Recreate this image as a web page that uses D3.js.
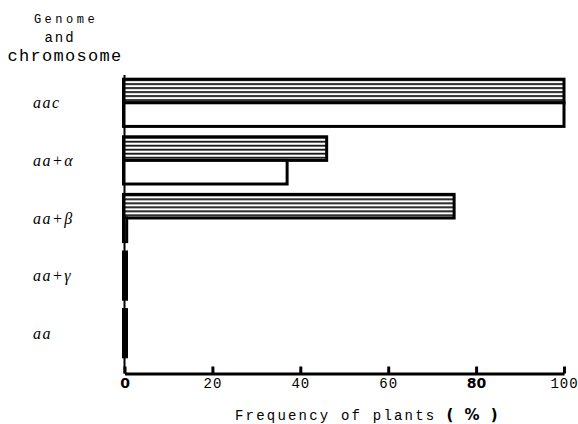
<!DOCTYPE html>
<html lang="en">

<head>
    <meta charset="UTF-8">
    <title>Genome and chromosome</title>
    <script src="https://d3js.org/d3.v7.js"></script>
    <style>
        body { margin: 0; background: #fff; }
        .mono { font-family: "Liberation Mono", "DejaVu Sans Mono", monospace; }
    </style>
</head>

<body>
    <div class="canvas"></div>

    <script>
        // data
        let categories = ["aac", "aa+α", "aa+β", "aa+γ", "aa"];
        let shadedValues = [100, 46, 75, 0, 0];   // hatched bars
        let openValues = [100, 37, 0.5, 0, 0];    // white bars
        let xTicks = [0, 20, 40, 60, 80, 100];
        let boldTicks = [0, 80];

        let data = categories.map((c, i) => ({ cat: c, shaded: shadedValues[i], open: openValues[i] }));

        let width = 578, height = 424;
        let axisY = 373.5;

        let svg = d3.select(".canvas").append("svg")
            .attr("width", width)
            .attr("height", height);

        // horizontal stripes
        let pat = svg.append("defs").append("pattern")
            .attr("id", "hatch")
            .attr("patternUnits", "userSpaceOnUse")
            .attr("width", 10).attr("height", 4);
        pat.append("rect").attr("width", 10).attr("height", 4).attr("fill", "#fff");
        pat.append("rect").attr("y", 0).attr("width", 10).attr("height", 1.8).attr("fill", "#111");

        // scales
        let x = d3.scaleLinear().domain([0, 100]).range([124.5, 564]);
        let y = d3.scaleBand().domain(categories).range([74, 362])
            .paddingInner(0.18).paddingOuter(0.09);
        let sub = d3.scaleBand().domain(["shaded", "open"]).range([0, y.bandwidth()]);

        // zero bars still leave a thick stroke on the axis
        let barW = v => Math.max(x(v) - x(0), 2);

        // bars
        let groups = svg.append("g").selectAll(".grp").data(data).enter()
            .append("g")
            .attr("class", "grp")
            .attr("transform", d => "translate(0," + y(d.cat) + ")");

        groups.append("rect")
            .attr("x", x(0) - 1)
            .attr("y", sub("shaded"))
            .attr("width", d => barW(d.shaded) + 1)
            .attr("height", sub.bandwidth())
            .attr("fill", "url(#hatch)")
            .attr("stroke", "#000")
            .attr("stroke-width", 3);

        groups.append("rect")
            .attr("x", x(0) - 1)
            .attr("y", sub("open"))
            .attr("width", d => barW(d.open) + 1)
            .attr("height", sub.bandwidth())
            .attr("fill", "#fff")
            .attr("stroke", "#000")
            .attr("stroke-width", 3);

        // y axis line
        svg.append("line")
            .attr("x1", x(0)).attr("x2", x(0))
            .attr("y1", 75).attr("y2", axisY)
            .attr("stroke", "#000").attr("stroke-width", 2);

        // category labels
        svg.append("g").selectAll("text").data(categories).enter()
            .append("text")
            .attr("x", 33)
            .attr("y", d => y(d) + y.bandwidth() / 2)
            .attr("dy", "0.35em")
            .attr("font-family", "'Liberation Serif', serif")
            .attr("font-style", "italic")
            .attr("font-size", "16px")
            .attr("letter-spacing", "1.5px")
            .text(d => d);

        // x axis, ticks pointing up
        let xAxis = svg.append("g")
            .attr("transform", "translate(0," + axisY + ")")
            .call(d3.axisBottom(x).tickValues(xTicks).tickSizeInner(-7).tickSizeOuter(0).tickPadding(5));
        xAxis.select(".domain").attr("stroke-width", 3);
        xAxis.selectAll(".tick line").attr("stroke-width", 3);
        xAxis.selectAll(".tick text")
            .attr("fill", "#000")
            .attr("class", "mono")
            .attr("font-size", "14px")
            .attr("letter-spacing", "1px")
            .each(function (d) {
                if (boldTicks.includes(d)) {
                    d3.select(this)
                        .attr("class", null)
                        .attr("font-family", "'DejaVu Sans', sans-serif")
                        .attr("font-weight", "bold")
                        .attr("font-size", "14px")
                        .attr("letter-spacing", "0px");
                }
            });

        // axis title
        let title = svg.append("text")
            .attr("x", 235)
            .attr("y", 420);
        title.append("tspan")
            .attr("class", "mono")
            .attr("font-size", "14px")
            .attr("letter-spacing", "2.2px")
            .text("Frequency of plants");
        title.append("tspan")
            .attr("dx", 10)
            .attr("font-family", "'DejaVu Sans', sans-serif")
            .attr("font-weight", "bold")
            .attr("font-size", "15px")
            .attr("letter-spacing", "3px")
            .text("( % )");

        // header of the category column
        let head = svg.append("g").attr("class", "mono").attr("text-anchor", "middle");
        head.append("text").attr("x", 66).attr("y", 23)
            .attr("font-size", "12px").attr("letter-spacing", "3.5px").text("Genome");
        head.append("text").attr("x", 60).attr("y", 42)
            .attr("font-size", "14px").attr("letter-spacing", "2px").text("and");
        head.append("text").attr("x", 65).attr("y", 61)
            .attr("font-size", "17px").attr("letter-spacing", "1.3px").text("chromosome");
    </script>
</body>

</html>
